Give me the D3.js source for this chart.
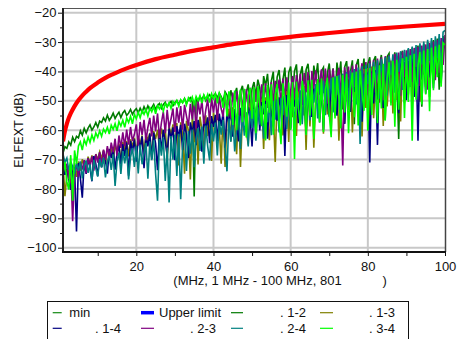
<!DOCTYPE html>
<html><head><meta charset="utf-8">
<script src="https://cdn.jsdelivr.net/npm/d3@7"></script>
<style>
html,body{margin:0;padding:0;background:#fff;}
svg{display:block;font-family:"Liberation Sans",Arial,sans-serif;}
</style></head><body>
<svg id="c" width="473" height="339"></svg>
<script>
// ---------- data ----------
const freqStart = 1, freqStep = 0.5; // MHz sweep, values below are sampled every 0.5 MHz
const xTicks = [20, 40, 60, 80, 100];
const xMinorTicks = [10, 30, 50, 70, 90];
const yTicks = [-20, -30, -40, -50, -60, -70, -80, -90, -100];
const yMinorTicks = [-25, -35, -45, -55, -65, -75, -85, -95];
const xTitle = "(MHz, 1 MHz - 100 MHz, 801";
const xTitleEnd = ")";
const yTitle = "ELFEXT (dB)";

const upperFreqs = [1,1.5,2,2.5,3,4,5,6,7,8,10,12,14,16,18,20,25,30,35,40,45,50,60,70,80,90,100];
const upperVals = [-63.8,-60.3,-57.8,-55.8,-54.3,-51.8,-49.8,-48.2,-46.9,-45.7,-43.8,-42.2,-40.9,-39.7,-38.7,-37.8,-35.8,-34.3,-32.9,-31.8,-30.7,-29.8,-28.2,-26.9,-25.7,-24.7,-23.8];

const pair12 = [
-67.8,-65.6,-66.2,-64.0,-65.1,-62.4,-63.9,-62.1,-62.6,-60.2,-61.7,-59.4,-60.9,-59.3,-58.2,-60.0,-58.9,-57.4,-59.0,-56.9,
-57.4,-55.8,-56.9,-54.9,-56.7,-55.6,-54.2,-56.0,-54.8,-53.9,-55.7,-54.1,-53.3,-55.0,-54.2,-52.9,-54.6,-53.4,-52.7,-54.1,
-52.5,-53.9,-52.0,-53.5,-51.7,-53.2,-52.3,-51.2,-52.9,-51.6,-50.9,-52.6,-51.2,-50.5,-52.1,-50.9,-50.2,-51.7,-50.6,-49.9,
-51.2,-49.8,-50.6,-49.2,-50.9,-49.6,-48.9,-50.4,-82.6,-49.0,-50.3,-48.6,-49.5,-48.2,-50.0,-48.7,-47.9,-49.4,-48.3,-47.6,
-49.0,-47.4,-48.6,-50.2,-46.9,-48.0,-51.3,-46.4,-49.5,-47.8,-45.6,-52.1,-46.8,-44.9,-49.6,-47.2,-44.4,-51.8,-45.9,-43.6,
-48.4,-42.8,-45.6,-52.7,-41.6,-44.9,-40.8,-49.8,-43.2,-40.1,-54.0,-41.9,-39.5,-46.7,-42.8,-38.7,-51.2,-40.4,-38.3,-47.5,
-39.9,-37.6,-48.5,-41.0,-38.2,-55.0,-39.4,-37.4,-44.6,-50.8,-38.0,-42.3,-37.2,-47.9,-39.8,-38.6,-53.6,-40.7,-37.3,-45.2,
-38.9,-49.7,-37.0,-42.4,-36.6,-52.9,-38.5,-36.5,-45.8,-40.1,-36.2,-58.0,-37.9,-35.8,-47.3,-41.2,-35.6,-50.4,-37.4,-35.2,
-44.1,-36.3,-34.8,-49.6,-38.2,-34.4,-42.7,-56.5,-35.0,-33.9,-46.0,-37.3,-33.5,-40.8,-63.0,-34.6,-33.0,-44.9,-36.2,-32.4,
-39.6,-31.9,-47.8,-35.5,-31.2,-41.7,-52.0,-30.6,-37.4,-30.0,-43.9,-33.2,-29.3,-39.0,-28.8,-46.2,-31.5,-28.0,-30.0];

const pair13 = [
-71.0,-82.5,-75.2,-72.4,-79.6,-73.0,-71.8,-75.9,-70.6,-73.8,-69.9,-72.2,-74.5,-69.0,-71.4,-68.6,-72.8,-68.1,-70.0,-67.4,
-69.7,-66.8,-71.5,-66.2,-68.0,-65.7,-69.9,-65.0,-67.4,-64.6,-70.8,-64.0,-66.3,-63.7,-68.9,-63.1,-65.6,-62.6,-67.9,-62.2,
-64.8,-61.8,-67.6,-61.2,-63.5,-60.9,-69.4,-60.3,-62.9,-59.9,-66.0,-59.4,-62.1,-58.9,-70.2,-58.5,-61.6,-58.0,-66.8,-57.6,
-72.0,-57.3,-61.4,-74.8,-56.8,-60.2,-76.8,-56.3,-64.1,-55.8,-71.7,-55.4,-59.8,-68.3,-54.9,-62.0,-54.5,-70.5,-54.0,-58.7,
-53.6,-59.2,-71.4,-53.1,-72.5,-56.6,-52.7,-63.8,-52.2,-58.0,-68.2,-51.7,-72.5,-55.4,-51.2,-60.3,-64.9,-50.6,-57.5,-50.1,
-62.8,-49.6,-56.2,-49.2,-66.4,-48.8,-58.0,-63.4,-48.2,-53.6,-70.8,-47.7,-57.2,-47.2,-61.8,-52.0,-46.7,-64.0,-46.2,-55.6,
-45.8,-62.0,-45.4,-50.5,-55.2,-45.0,-66.7,-44.6,-58.7,-44.2,-66.0,-49.3,-43.8,-56.1,-43.4,-61.2,-43.0,-54.6,-42.6,-60.0,
-42.2,-55.1,-41.8,-63.6,-47.2,-41.4,-57.6,-41.0,-53.2,-40.6,-60.8,-45.0,-40.1,-55.3,-39.6,-62.1,-39.2,-52.4,-38.8,-58.4,
-38.3,-55.9,-43.4,-37.8,-50.6,-37.3,-58.6,-36.8,-51.9,-41.5,-36.3,-54.3,-35.8,-49.7,-35.3,-57.0,-34.8,-50.8,-34.3,-47.9,
-33.8,-52.4,-33.3,-47.4,-32.8,-50.3,-36.8,-32.2,-45.4,-31.6,-48.7,-31.0,-44.1,-30.4,-39.5,-29.8,-42.6,-29.2,-30.5];

const pair14 = [
-71.5,-75.2,-73.0,-76.8,-80.3,-74.1,-72.6,-94.5,-71.2,-76.3,-83.0,-70.4,-74.9,-69.6,-72.8,-77.4,-68.8,-71.5,-75.6,-67.9,
-72.6,-67.1,-70.2,-74.8,-66.4,-69.5,-65.9,-73.4,-68.0,-65.2,-71.6,-64.7,-68.8,-64.1,-75.5,-63.6,-67.4,-63.1,-70.7,-62.6,
-66.3,-62.1,-72.9,-61.7,-65.5,-61.2,-69.8,-60.8,-64.6,-73.6,-60.3,-66.9,-59.9,-63.8,-68.5,-59.4,-63.0,-59.0,-70.2,-58.6,
-62.4,-58.2,-66.8,-57.8,-61.5,-69.5,-57.3,-60.9,-56.9,-65.1,-56.5,-60.2,-67.3,-56.0,-59.6,-55.6,-64.4,-55.2,-58.9,-54.8,
-63.7,-54.4,-58.5,-54.0,-66.0,-53.6,-57.8,-53.2,-62.2,-52.8,-57.2,-63.8,-52.4,-56.4,-52.0,-60.7,-51.6,-55.9,-65.5,-51.2,
-55.4,-50.8,-60.1,-50.4,-54.6,-50.0,-62.9,-49.6,-53.9,-58.7,-49.2,-56.8,-48.8,-53.0,-48.4,-68.8,-48.0,-52.4,-59.5,-47.6,
-52.0,-47.2,-57.6,-46.8,-51.3,-46.4,-61.2,-46.0,-50.6,-55.5,-45.6,-50.0,-45.2,-57.4,-44.8,-59.9,-44.4,-49.4,-55.4,-44.0,
-48.8,-43.6,-55.1,-43.2,-48.2,-42.8,-57.9,-42.4,-47.6,-53.8,-42.0,-47.0,-41.6,-54.5,-41.2,-57.1,-40.8,-46.4,-40.4,-71.0,
-40.0,-50.9,-39.6,-65.0,-39.2,-45.8,-52.4,-38.8,-45.2,-38.4,-50.6,-38.0,-44.6,-37.6,-54.2,-37.2,-44.0,-36.8,-49.8,-36.4,
-43.4,-35.8,-48.7,-35.2,-63.6,-34.6,-42.8,-34.0,-47.6,-33.4,-42.0,-32.7,-45.7,-31.9,-40.9,-31.0,-43.8,-29.8,-28.5];

const pair23 = [
-69.5,-73.2,-71.4,-76.6,-72.3,-91.0,-74.5,-71.8,-75.9,-70.9,-73.4,-70.2,-74.6,-69.6,-72.3,-68.9,-73.8,-68.2,-71.0,-67.5,
-72.4,-66.6,-70.1,-65.4,-69.3,-64.2,-67.5,-62.9,-68.8,-61.8,-66.0,-60.7,-65.4,-59.8,-64.9,-58.9,-63.7,-61.4,-58.0,-65.2,
-57.2,-61.6,-56.5,-63.5,-59.0,-55.8,-62.1,-55.0,-60.4,-54.3,-62.7,-57.5,-53.7,-61.0,-53.1,-59.3,-56.1,-52.6,-60.6,-52.2,
-57.4,-51.8,-59.8,-51.4,-55.2,-58.5,-51.0,-56.3,-50.6,-59.4,-50.2,-54.6,-49.8,-57.9,-53.2,-49.5,-56.8,-49.1,-54.0,-48.8,
-56.6,-48.4,-52.7,-55.4,-48.0,-53.6,-47.6,-56.0,-47.2,-51.8,-46.8,-54.7,-46.4,-50.9,-55.5,-46.0,-52.2,-45.6,-54.1,-45.2,
-50.4,-44.8,-53.3,-44.4,-49.6,-44.0,-52.4,-48.2,-43.6,-51.0,-43.2,-47.6,-42.8,-52.3,-42.4,-49.0,-42.0,-50.8,-46.6,-41.6,
-49.2,-41.2,-46.8,-40.8,-51.4,-40.5,-47.1,-40.2,-53.5,-39.9,-45.9,-39.6,-49.6,-43.5,-39.3,-47.4,-39.0,-51.0,-39.3,-45.8,
-39.1,-48.5,-42.4,-38.8,-46.6,-72.0,-38.6,-44.9,-38.3,-49.7,-38.0,-45.3,-37.6,-50.9,-41.2,-37.2,-46.5,-36.8,-48.1,-36.4,
-44.0,-36.0,-47.2,-35.6,-42.7,-35.2,-49.8,-34.8,-43.1,-34.4,-46.4,-39.2,-34.0,-45.0,-33.6,-48.3,-33.2,-41.9,-32.8,-45.6,
-32.4,-43.6,-32.0,-38.5,-31.6,-44.9,-31.2,-41.0,-30.8,-46.2,-30.3,-39.7,-29.8,-43.0,-29.2,-40.4,-28.6,-37.8,-27.6];

const pair24 = [
-68.2,-71.0,-69.5,-73.6,-70.8,-72.4,-74.9,-71.2,-73.8,-70.6,-76.4,-72.1,-70.3,-74.5,-71.6,-77.2,-70.1,-73.0,-75.8,-69.8,
-72.7,-69.4,-76.1,-70.8,-68.7,-73.5,-68.2,-79.0,-70.6,-67.6,-74.9,-67.1,-71.3,-66.6,-76.8,-69.2,-66.0,-72.5,-65.5,-74.7,
-64.9,-71.6,-67.8,-64.4,-76.5,-63.9,-70.2,-63.4,-74.8,-84.0,-63.0,-68.7,-62.5,-77.3,-65.9,-84.6,-62.0,-70.0,-61.6,-75.6,
-61.2,-83.5,-64.7,-60.8,-73.9,-60.3,-68.0,-59.8,-72.6,-62.9,-59.3,-67.1,-58.8,-71.4,-58.4,-65.5,-70.3,-57.9,-63.8,-57.4,
-68.6,-57.0,-61.5,-56.5,-65.4,-74.0,-56.0,-63.9,-55.5,-67.2,-59.6,-55.0,-66.4,-54.4,-61.9,-53.9,-65.5,-53.3,-59.2,-52.8,
-63.6,-52.2,-58.1,-51.7,-62.9,-51.1,-57.3,-50.6,-61.7,-50.0,-56.4,-49.5,-60.8,-49.0,-54.9,-48.4,-59.6,-47.9,-53.8,-47.4,
-58.9,-46.9,-52.6,-46.4,-58.0,-45.8,-51.9,-45.3,-56.7,-44.8,-50.6,-44.3,-56.0,-43.8,-49.7,-43.2,-54.9,-42.7,-48.9,-42.2,
-54.0,-41.7,-47.9,-41.2,-53.3,-40.7,-46.8,-40.2,-51.9,-39.7,-45.6,-39.2,-51.2,-38.7,-64.7,-38.2,-49.7,-37.7,-44.3,-37.2,
-50.1,-36.7,-43.5,-36.2,-49.3,-35.7,-42.4,-35.2,-48.2,-34.7,-41.3,-34.2,-47.2,-33.6,-40.2,-33.1,-46.3,-32.6,-39.4,-32.0,
-45.3,-31.5,-38.6,-31.0,-44.4,-30.4,-37.6,-29.8,-43.3,-29.2,-36.4,-28.6,-42.2,-28.0,-35.5,-27.3,-40.1,-26.6,-26.0];

const pair34 = [
-75.0,-70.8,-77.6,-80.2,-68.5,-84.0,-66.9,-71.5,-65.4,-64.0,-66.8,-63.2,-64.9,-62.3,-64.2,-61.6,-63.5,-60.9,-62.4,-60.2,
-62.1,-59.6,-60.8,-59.0,-61.3,-58.3,-59.7,-57.8,-60.2,-57.1,-58.6,-56.6,-59.0,-55.9,-57.4,-55.3,-57.8,-54.6,-56.1,-53.9,
-55.8,-53.3,-54.6,-52.9,-55.2,-52.4,-53.7,-52.0,-54.4,-51.6,-52.8,-51.3,-53.5,-50.9,-52.0,-50.6,-52.6,-50.2,-51.3,-49.9,
-51.8,-49.6,-50.7,-49.3,-51.4,-49.0,-50.2,-48.7,-51.1,-48.5,-49.9,-48.2,-50.8,-48.0,-49.5,-47.8,-50.6,-47.6,-49.3,-47.5,
-50.9,-47.3,-49.0,-52.4,-47.1,-55.3,-46.8,-50.6,-58.2,-46.5,-60.0,-49.8,-46.2,-57.3,-45.9,-62.5,-48.4,-45.6,-56.1,-45.3,
-61.0,-45.0,-51.5,-58.6,-44.8,-63.5,-44.6,-54.0,-44.4,-61.5,-47.9,-44.2,-57.0,-64.8,-44.0,-50.2,-55.4,-43.8,-60.0,-43.6,
-69.8,-43.4,-52.6,-58.4,-43.2,-47.0,-61.6,-43.0,-55.0,-42.8,-63.0,-49.5,-42.6,-57.4,-42.4,-60.6,-46.2,-42.2,-54.6,-62.4,
-42.0,-56.0,-41.6,-48.9,-59.4,-41.2,-54.0,-40.8,-61.0,-45.3,-40.4,-55.6,-40.0,-58.4,-39.6,-47.1,-53.4,-39.2,-60.2,-38.8,
-54.8,-38.3,-44.0,-57.6,-37.9,-52.6,-37.4,-56.8,-42.5,-36.9,-51.6,-36.4,-58.8,-36.0,-53.0,-40.9,-35.5,-55.8,-35.0,-50.4,
-34.5,-63.6,-34.0,-49.6,-38.1,-33.4,-51.2,-32.9,-47.8,-32.4,-53.5,-31.9,-46.4,-31.4,-42.0,-30.9,-45.2,-30.3,-31.0];

const seriesValues = [pair12, pair13, pair14, pair23, pair24, pair34];
const seriesColors = ["#007a00", "#808000", "#000080", "#800080", "#008080", "#00ff00"];
const legendLabels = ["min", "Upper limit", ". 1-2", ". 1-3", ". 1-4", ". 2-3", ". 2-4", ". 3-4"];
const legendColors = ["#138a13", "#0000ff", "#007a00", "#808000", "#000080", "#800080", "#008080", "#00ff00"];

// ---------- drawing ----------
const svg = d3.select('#c');
const L = 63, R = 445, T = 8, B = 252;
const x = d3.scaleLinear().domain([1, 100]).range([L, R]);
const y = d3.scaleLinear().domain([-20, -100]).range([12.7, 247.7]);
const font = 13;

// grid
svg.append('g').selectAll('line').data(yTicks).join('line')
  .attr('x1', L).attr('x2', R).attr('y1', d => y(d)).attr('y2', d => y(d))
  .attr('stroke', '#c8c8c8').attr('stroke-width', 2);
svg.append('g').selectAll('line').data(xTicks.filter(d => d < 100)).join('line')
  .attr('x1', d => x(d)).attr('x2', d => x(d)).attr('y1', T).attr('y2', B)
  .attr('stroke', '#c8c8c8').attr('stroke-width', 2);

// clip
svg.append('clipPath').attr('id', 'clip').append('rect')
  .attr('x', L).attr('y', T).attr('width', R - L).attr('height', B - T);
const plot = svg.append('g').attr('clip-path', 'url(#clip)');

// upper limit
plot.append('path')
  .datum(upperVals)
  .attr('fill', 'none').attr('stroke', '#ff0000').attr('stroke-width', 4.2)
  .attr('d', d3.line().curve(d3.curveMonotoneX).x((d, i) => x(upperFreqs[i])).y(d => y(d)));

// measured pairs
const pairLine = d3.line().x((d, i) => x(freqStart + i * freqStep)).y(d => y(d));
seriesValues.forEach((vals, k) => {
  plot.append('path').datum(vals)
    .attr('fill', 'none').attr('stroke', seriesColors[k]).attr('stroke-width', 1.6)
    .attr('stroke-linejoin', 'miter')
    .attr('d', pairLine);
});

// frame
svg.append('line').attr('x1', L).attr('x2', R + 1).attr('y1', T + 0.5).attr('y2', T + 0.5).attr('stroke', '#555').attr('stroke-width', 1);
svg.append('line').attr('x1', R + 0.5).attr('x2', R + 0.5).attr('y1', T).attr('y2', B).attr('stroke', '#444').attr('stroke-width', 1.5);

// y axis
const yAxis = svg.append('g').attr('transform', `translate(${L},0)`)
  .call(d3.axisLeft(y).tickValues(yTicks).tickSize(5).tickSizeOuter(0).tickPadding(1.5));
yAxis.select('.domain').remove();
yAxis.selectAll('text').attr('font-size', font).attr('fill', '#111').attr('font-family', '"Liberation Sans",Arial,sans-serif');
yAxis.selectAll('line').attr('stroke', '#111');
svg.append('g').attr('transform', `translate(${L},0)`)
  .call(d3.axisLeft(y).tickValues(yMinorTicks).tickSize(3).tickFormat(''))
  .call(g => { g.select('.domain').remove(); g.selectAll('line').attr('stroke', '#111'); });

// x axis
const xAxis = svg.append('g').attr('transform', `translate(0,${B})`)
  .call(d3.axisBottom(x).tickValues(xTicks).tickSize(4).tickSizeOuter(0).tickPadding(5.8));
xAxis.select('.domain').remove();
xAxis.selectAll('text').attr('font-size', font).attr('fill', '#111').attr('font-family', '"Liberation Sans",Arial,sans-serif');
xAxis.selectAll('line').attr('stroke', '#111');
svg.append('g').attr('transform', `translate(0,${B})`)
  .call(d3.axisBottom(x).tickValues(xMinorTicks).tickSize(4).tickFormat(''))
  .call(g => { g.select('.domain').remove(); g.selectAll('line').attr('stroke', '#111'); });

// axis lines
svg.append('line').attr('x1', L).attr('x2', L).attr('y1', T).attr('y2', B + 1).attr('stroke', '#222').attr('stroke-width', 2);
svg.append('line').attr('x1', L - 1).attr('x2', R + 1).attr('y1', B).attr('y2', B).attr('stroke', '#111').attr('stroke-width', 2);

// titles
svg.append('text').attr('x', 173.3).attr('y', 285).attr('font-size', font).attr('fill', '#111').text(xTitle);
svg.append('text').attr('x', 382.5).attr('y', 285).attr('font-size', font).attr('fill', '#111').text(xTitleEnd);
svg.append('text').attr('transform', 'translate(22.5,130.5) rotate(-90)').attr('text-anchor', 'middle')
  .attr('font-size', 12.6).attr('fill', '#111').text(yTitle);

// legend
svg.append('rect').attr('x', 47.5).attr('y', 301.5).attr('width', 361).attr('height', 60)
  .attr('fill', 'none').attr('stroke', '#111').attr('stroke-width', 1);
const swX = [[52.7, 61.7], [141, 154], [231, 243], [320, 333]];
const txt = [{ x: 69.3, a: 'start' }, { x: 159, a: 'start' }, { x: 306, a: 'end' }, { x: 395, a: 'end' }];
const row2Txt = [{ x: 121, a: 'end' }, { x: 216, a: 'end' }, { x: 306, a: 'end' }, { x: 395, a: 'end' }];
const rowY = [312.7, 328.3], rowBase = [317.2, 332.6];
legendLabels.forEach((lab, i) => {
  const r = Math.floor(i / 4), c = i % 4;
  const g = svg.append('g');
  g.append('line').attr('x1', swX[c][0]).attr('x2', swX[c][1]).attr('y1', rowY[r]).attr('y2', rowY[r])
    .attr('stroke', legendColors[i]).attr('stroke-width', i === 1 ? 3.5 : 1.2);
  const t = r === 0 ? txt[c] : row2Txt[c];
  g.append('text').attr('x', t.x).attr('y', rowBase[r]).attr('text-anchor', t.a)
    .attr('font-size', font).attr('fill', '#111').text(lab);
});
</script>
</body></html>
